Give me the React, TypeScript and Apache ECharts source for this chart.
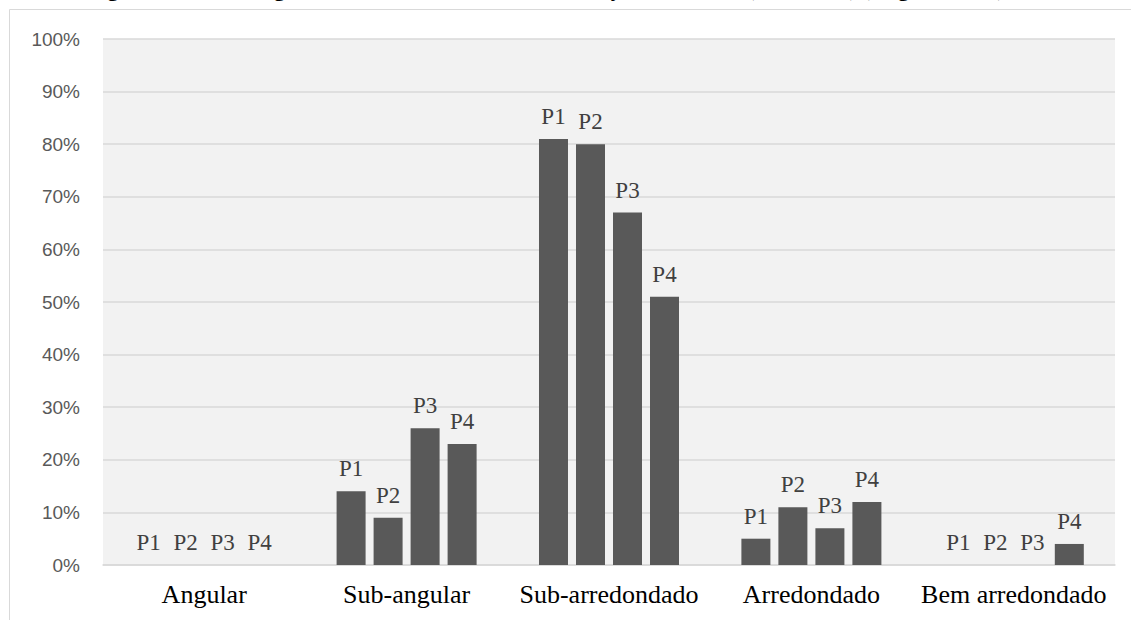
import React, { useEffect, useRef } from "react";
import * as echarts from "echarts";

const categories = ["Angular", "Sub-angular", "Sub-arredondado", "Arredondado", "Bem arredondado"];
const seriesNames = ["P1", "P2", "P3", "P4"];
const p1 = [0, 14, 81, 5, 0];
const p2 = [0, 9, 80, 11, 0];
const p3 = [0, 26, 67, 7, 0];
const p4 = [0, 23, 51, 12, 4];
const yTicks = [0, 10, 20, 30, 40, 50, 60, 70, 80, 90, 100];
const titleText = "Figura 3 – Porcentagem de arredondamento e classificação de Powers (1953-2019) (Augusto 2020)";

export default function App() {
  const ref = useRef<HTMLDivElement>(null);
  useEffect(() => {
    if (!ref.current) return;
    const chart = echarts.init(ref.current, null, { renderer: "svg" });
    const values = [p1, p2, p3, p4];
    chart.setOption({
      animation: false,
      backgroundColor: "#ffffff",
      graphic: [
        {
          type: "rect",
          shape: { x: 9.5, y: 9.5, width: 1200, height: 700 },
          style: { fill: "none", stroke: "#d9d9d9", lineWidth: 1 },
          silent: true,
        },
        {
          type: "text",
          x: 88,
          y: -1,
          style: {
            text: titleText,
            font: "bold 22px 'Liberation Serif'",
            fill: "#000000",
            textVerticalAlign: "bottom",
          },
          silent: true,
        },
      ],
      grid: {
        left: 103,
        right: 16,
        top: 39,
        bottom: 55,
        show: true,
        backgroundColor: "#f2f2f2",
        borderWidth: 0,
      },
      xAxis: {
        type: "category",
        data: categories,
        axisLine: { show: true, lineStyle: { color: "#d9d9d9", width: 1.5 } },
        axisTick: { show: false },
        axisLabel: {
          interval: 0,
          fontFamily: "'Liberation Serif'",
          fontSize: 26,
          color: "#000000",
          margin: 16,
        },
      },
      yAxis: {
        type: "value",
        min: 0,
        max: 100,
        interval: 10,
        axisLine: { show: false },
        axisTick: { show: false },
        axisLabel: {
          formatter: (v: number) => (yTicks.includes(v) ? v + "%" : ""),
          fontFamily: "'Liberation Sans'",
          fontSize: 19,
          color: "#595959",
          margin: 23,
        },
        splitLine: { show: true, lineStyle: { color: "#d9d9d9", width: 1.5 } },
      },
      series: seriesNames.map((name, i) => ({
        name,
        type: "bar",
        data: values[i],
        barWidth: 29,
        barGap: "27.6%",
        itemStyle: { color: "#595959" },
        label: {
          show: true,
          position: "top",
          distance: 11,
          formatter: name,
          fontFamily: "'Liberation Serif'",
          fontSize: 23,
          color: "#404040",
        },
      })),
    });
    return () => chart.dispose();
  }, []);
  return (
    <div
      ref={ref}
      style={{ position: "absolute", left: 0, top: 0, width: 1131, height: 620 }}
    />
  );
}
